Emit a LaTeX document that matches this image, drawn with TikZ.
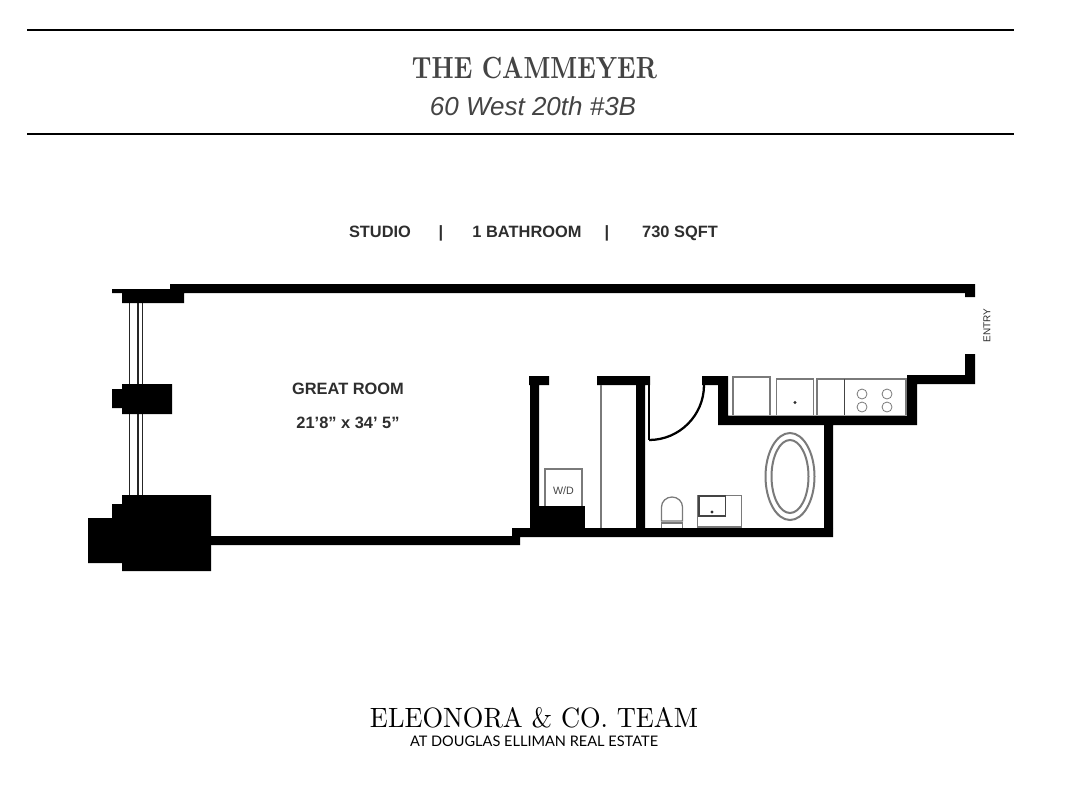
\documentclass[tikz,border=0pt]{standalone}
\usepackage{fontspec}
\setmainfont{Liberation Sans}
\newfontfamily\lmfont{Latin Modern Roman}
\newfontfamily\latofont{Lato}
\definecolor{ink}{HTML}{2E2E2E}
\definecolor{soft}{HTML}{444444}
\definecolor{fixture}{HTML}{7A7A7A}
\tikzset{
  wall/.style={fill=black,draw=none},
  rulebar/.style={draw=black,line width=1.8pt},
  glazing/.style={draw=black!85,line width=1.2pt},
  fix/.style={draw=fixture,line width=.95pt,fill=none},
  fixdark/.style={draw=soft,line width=.95pt,fill=none},
  label/.style={inner sep=0pt,anchor=base,text=ink,font=\bfseries\fontsize{12.3}{14}\selectfont},
}
\begin{document}
\begin{tikzpicture}[x=.75pt,y=-.75pt]
\useasboundingbox (0,0) rectangle (1067,800);
\fill[white] (0,0) rectangle (1067,800);
% header rules
\coordinate (r1a) at (27,30); \coordinate (r1b) at (1014,30);
\coordinate (r2a) at (27,134); \coordinate (r2b) at (1014,134);
\draw[rulebar] (r1a) -- (r1b);
\draw[rulebar] (r2a) -- (r2b);
% titles
\node[inner sep=0pt,text=soft] (title) at (534.5,68) {\resizebox{183.75pt}{16pt}{\lmfont\bfseries THE CAMMEYER}};
\node[inner sep=0pt,anchor=base,text=soft,font=\itshape\fontsize{19.5}{22}\selectfont] (addr) at (533,115.5) {60 West 20th \#3B};
\node[label] (studio) at (380,237) {STUDIO};
\node[label] (sep1) at (441,237) {|};
\node[label] (bath) at (527,237) {1 BATHROOM};
\node[label] (sep2) at (607,237) {|};
\node[label] (sqft) at (680,237) {730 SQFT};
\node[label] (room) at (348,394) {GREAT ROOM};
\node[label] (dims) at (348,428) {21’8” x 34’ 5”};
\node[inner sep=0pt,text=ink,rotate=90,font=\fontsize{7.5}{9}\selectfont] (entry) at (987,325.5) {ENTRY};
% footer
\node[inner sep=0pt,text=black] (team) at (534,718) {\resizebox{246pt}{15pt}{\lmfont ELEONORA \& CO. TEAM}};
\node[inner sep=0pt,text=black] (at) at (534,741.5) {\resizebox{186pt}{!}{\latofont AT DOUGLAS ELLIMAN REAL ESTATE}};
% glazing
\foreach \gx in {129.5,138,142.5}{
  \draw[glazing] (\gx,303) -- (\gx,384);
  \draw[glazing] (\gx,414) -- (\gx,495);
}
% shell: top wall, left caps
\fill[wall] (112,289) -- (170,289) -- (170,284) -- (975,284) -- (975,297) -- (965,297) -- (965,293) -- (184,293) -- (184,303) -- (122,303) -- (122,293) -- (112,293) -- cycle;
% mid pier
\fill[wall] (122,384) -- (172,384) -- (172,414) -- (122,414) -- (122,408) -- (112,408) -- (112,389) -- (122,389) -- cycle;
% corner pier
\fill[wall] (122,495) -- (211,495) -- (211,571) -- (122,571) -- (122,563) -- (88,563) -- (88,518) -- (112,518) -- (112,504) -- (122,504) -- cycle;
% bottom wall
\fill[wall] (211,536) -- (512,536) -- (512,528) -- (833,528) -- (833,537) -- (520,537) -- (520,545) -- (211,545) -- cycle;
% closet left wall + cap
\fill[wall] (529,376) -- (549,376) -- (549,385) -- (539,385) -- (539,528) -- (530,528) -- (530,385) -- (529,385) -- cycle;
% closet right wall + cap
\fill[wall] (597,376) -- (650,376) -- (650,385) -- (645,385) -- (645,528) -- (636,528) -- (636,385) -- (597,385) -- cycle;
% kitchen surround
\fill[wall] (702,376) -- (728,376) -- (728,415.5) -- (907,415.5) -- (907,375) -- (965,375) -- (965,354) -- (975,354) -- (975,384) -- (917,384) -- (917,425) -- (833,425) -- (833,528) -- (824,528) -- (824,425) -- (718,425) -- (718,385) -- (702,385) -- cycle;
% W/D base
\fill[wall] (538,506) rectangle (585,528);
% closet rod line
\draw[fix] (601,385) -- (601,528);
% door
\draw[draw=black,line width=1.1pt] (649,385) -- (649,440);
\draw[draw=black,line width=1.7pt] (649,440) arc[start angle=-90,end angle=0,x radius=55,y radius=-55];
% W/D
\draw[fix] (545,506) -- (545,469) -- (582,469) -- (582,506);
\node[inner sep=0pt,text=soft,font=\fontsize{8}{9}\selectfont] (wd) at (563.5,491) {W/D};
% kitchen fixtures
\draw[fix] (733,415) -- (733,377) -- (770,377) -- (770,415);
\draw[fix] (776.5,415) -- (776.5,379) -- (813.5,379) -- (813.5,415);
\draw[fix] (817,415) -- (817,379) -- (906,379) -- (906,415);
\draw[fixdark] (844.5,379) -- (844.5,415);
\fill[ink] (795,402.5) circle[radius=1.7];
\foreach \bx in {862,887}\foreach \by in {394,407}{
  \draw[draw=fixture,line width=.6pt] (\bx,\by) circle[radius=5];
}
% tub
\draw[fix,line width=1.5pt] (790,476.5) ellipse[x radius=24.5,y radius=43.5];
\draw[fix,line width=1.5pt] (790,476.5) ellipse[x radius=18.5,y radius=36.5];
% toilet
\draw[fix] (661.5,521) -- (661.5,507) arc[start angle=180,end angle=0,x radius=10.5,y radius=-10] -- (682.5,521) -- cycle;
\draw[fix] (661.5,528) -- (661.5,523) -- (682.5,523) -- (682.5,528);
% vanity
\draw[fix] (697.5,527) -- (697.5,495.5) -- (741.5,495.5) -- (741.5,527) -- cycle;
\draw[fixdark] (699,496) rectangle (725.5,516);
\fill[ink] (712,512) circle[radius=1.7];
\end{tikzpicture}
\end{document}
